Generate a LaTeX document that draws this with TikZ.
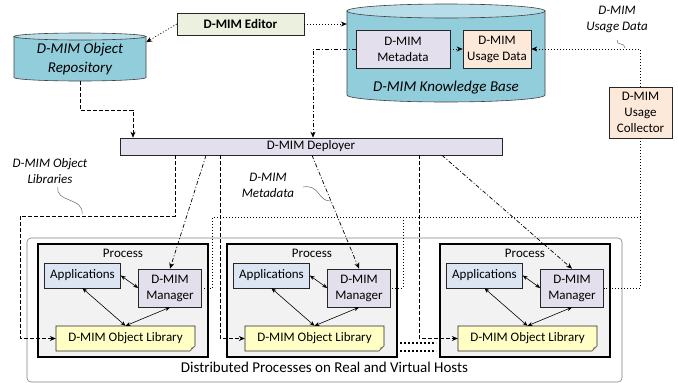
\documentclass[tikz,border=0pt]{standalone}
\usepackage{fontspec}
\setmainfont{Carlito}
\usetikzlibrary{arrows.meta}

\definecolor{editorgreen}{HTML}{EBF1DE}
\definecolor{mimlavender}{HTML}{E4DFEC}
\definecolor{usagepeach}{HTML}{FDE9D9}
\definecolor{appblue}{HTML}{DCE6F2}
\definecolor{libyellow}{HTML}{FFFFC5}
\definecolor{procgray}{HTML}{F2F2F2}
\definecolor{cylbody}{HTML}{92CDDC}
\definecolor{cyltop}{HTML}{B7DEE8}

\tikzset{
  basebox/.style={draw=black!85, line width=0.6pt, inner sep=0pt, align=center,
    font=\fontsize{13}{16}\selectfont},
  mimbox/.style={basebox, fill=mimlavender},
  usagebox/.style={basebox, fill=usagepeach},
  appbox/.style={basebox, fill=appblue},
  libtext/.style={inner sep=0pt, font=\fontsize{13}{16}\selectfont},
  libshape/.style={draw=black!85, line width=0.6pt, fill=libyellow},
  procbox/.style={draw=black, line width=1.3pt, fill=procgray, inner sep=0pt},
  cylshape/.style={draw=black!75, line width=0.6pt},
  cyltext/.style={inner sep=0pt, align=center, font=\itshape\fontsize{15}{18.5}\selectfont},
  callouttext/.style={align=center, inner sep=0pt, font=\itshape\fontsize{13}{16}\selectfont},
  callout/.style={draw=black!60, line width=0.5pt},
  libline/.style={dash pattern=on 4pt off 2pt, line width=0.7pt},
  metaline/.style={dash pattern=on 4pt off 2pt on 1pt off 2pt, line width=0.7pt},
  usageline/.style={dash pattern=on 1pt off 2pt, line width=0.7pt},
  endtip/.style={-{Stealth[length=6pt,width=5pt]}},
  twotips/.style={{Stealth[length=5pt,width=4pt]}-{Stealth[length=5pt,width=4pt]}, line width=0.6pt},
}

\begin{document}
\begin{tikzpicture}[x=1pt,y=-1pt]
  \useasboundingbox (0,0) rectangle (678,383);

  % hosts and processes
  \node[draw=black!50, line width=0.6pt, rounded corners=4pt, fill=white,
        minimum width=595pt, minimum height=144pt] (hosts) at (324.5,310) {};
  \node[font=\fontsize{15}{18}\selectfont] (hostlabel) at (324.5,367)
    {Distributed Processes on Real and Virtual Hosts};

  \foreach \p/\px in {1/38,2/227,3/440}{
    \node[procbox, minimum width=170pt, minimum height=113pt] (proc\p) at (\px+85,300.5) {};
    \node[font=\fontsize{13}{15}\selectfont] (plabel\p) at (\px+85,253) {Process};
    \node[appbox, minimum width=76pt, minimum height=25pt] (app\p) at (\px+44.5,275.5) {Applications};
    \node[mimbox, minimum width=63pt, minimum height=38pt] (mgr\p) at (\px+132,288) {D-MIM\\Manager};
    \filldraw[libshape] (\px+18,326) -- (\px+157,326) -- (\px+157,346) -- (\px+152,351) -- (\px+18,351) -- cycle;
    \fill[libyellow!55!black] (\px+157,346) -- (\px+152,351) -- (\px+153.5,347.5) -- cycle;
    \node[libtext, minimum width=139pt, minimum height=25pt] (ol\p) at (\px+87.5,338.5) {D-MIM Object Library};
    \draw[twotips] (app\p.east) -- (mgr\p.west);
    \draw[twotips] (app\p.south) -- (ol\p.north);
    \draw[twotips] (mgr\p.south) -- (ol\p.north);
  }

  % more processes
  \draw[line width=1.6pt, dash pattern=on 1.6pt off 2.4pt] (400,343) -- (436,343);
  \draw[line width=1.6pt, dash pattern=on 1.6pt off 2.4pt] (400,351) -- (436,351);

  % repositories
  \filldraw[cylshape, fill=cylbody] (14,36.5) -- (14,77.5)
    arc[start angle=180, end angle=360, x radius=66pt, y radius=3.5pt] -- (146,36.5) -- cycle;
  \filldraw[cylshape, fill=cyltop] (80,36.5) ellipse[x radius=66pt, y radius=3.5pt];
  \node[cyltext, minimum width=132pt, minimum height=44.5pt] (repo) at (80,58.75) {D-MIM Object\\Repository};

  \filldraw[cylshape, fill=cylbody] (347,11) -- (347,95)
    arc[start angle=180, end angle=360, x radius=99pt, y radius=7pt] -- (545,11) -- cycle;
  \filldraw[cylshape, fill=cyltop] (446,11) ellipse[x radius=99pt, y radius=7pt];
  \node[cyltext, minimum width=198pt, minimum height=84pt] (kb) at (446,53) {};
  \node[cyltext] (kbname) at (446,88) {D-MIM Knowledge Base};

  \node[mimbox, minimum width=94pt, minimum height=38pt] (meta) at (403,49) {D-MIM\\Metadata};
  \node[usagebox, minimum width=68pt, minimum height=38pt] (usage) at (497,49) {D-MIM\\Usage Data};

  % tools
  \node[basebox, fill=editorgreen, font=\bfseries\fontsize{13}{16}\selectfont,
        minimum width=127pt, minimum height=22pt] (editor) at (240.5,24) {D-MIM Editor};
  \node[usagebox, minimum width=63pt, minimum height=51pt] (coll) at (640.5,112.5) {D-MIM\\Usage\\Collector};
  \node[mimbox, minimum width=382pt, minimum height=17pt] (dep) at (311,146.5) {D-MIM Deployer};

  % usage data
  \draw[usageline, endtip] (editor.west) -- (repo.14);
  \draw[usageline, endtip] (editor.east) -- (editor.east -| kb.west);
  \draw[usageline, endtip] (meta.east) -- (usage.west);
  \draw[usageline, endtip] (coll.north) |- (usage.east);
  \draw[usageline] (coll.south) |- (mgr3.east);
  \coordinate (bus1) at (212,217);
  \coordinate (bus2) at (403,217);
  \draw[usageline] (coll.south |- bus1) -- (bus1) |- (mgr1.east);
  \draw[usageline] (bus2) |- (mgr2.east);

  % metadata
  \coordinate (metadrop) at (313,0);
  \draw[metaline, endtip] (meta.west) -| (dep.north -| metadrop);
  \foreach \p/\x in {1/206,2/312,3/442}
    \draw[metaline, endtip] (dep.south -| \x,0) -- (mgr\p.north);

  % object libraries
  \coordinate (repoturn) at (133,110);
  \draw[libline, endtip] (repo.south) |- (repoturn) -- (repoturn |- dep.north);
  \coordinate (libturn) at (20,216);
  \draw[libline, endtip] (dep.south -| 175,0) |- (libturn) |- (ol1.west);
  \draw[libline, endtip] (dep.south -| 220,0) |- (ol2.west);
  \draw[libline, endtip] (dep.south -| 419,0) |- (ol3.west);

  % callouts
  \node[callouttext] (liblabel) at (50,171) {D-MIM Object\\Libraries};
  \draw[callout] (58,187) .. controls (55,203) and (84,197) .. (82,214);
  \node[callouttext] (metalabel) at (268,185) {D-MIM\\Metadata};
  \draw[callout] (303,187) .. controls (320,184) and (318,202) .. (331,201);
  \node[callouttext] (usagelabel) at (617,19.5) {D-MIM\\Usage Data};
  \draw[callout] (617,40) .. controls (616,46) and (625,42) .. (625,48);
\end{tikzpicture}
\end{document}
